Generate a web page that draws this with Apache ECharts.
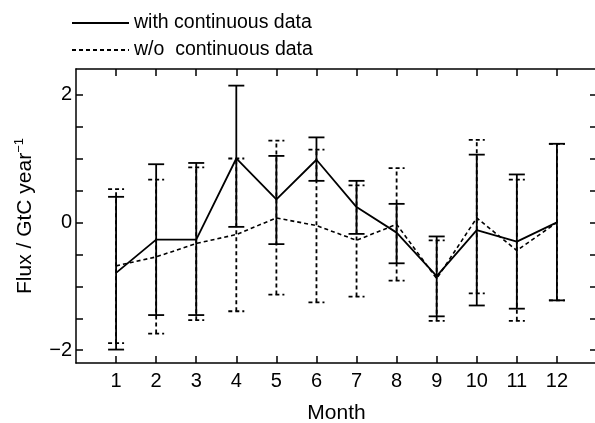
<!DOCTYPE html>
<html>
<head>
<meta charset="utf-8">
<script src="https://cdn.jsdelivr.net/npm/echarts@6/dist/echarts.min.js"></script>
<style>
  html, body { margin: 0; padding: 0; background: #fff; }
  #chart { width: 595px; height: 423px; }
</style>
</head>
<body>
<div id="chart"></div>
<script>
var months = [1, 2, 3, 4, 5, 6, 7, 8, 9, 10, 11, 12];

// with continuous data
var withMean = [-0.79, -0.27, -0.27, 1.00, 0.36, 0.98, 0.24, -0.16, -0.84, -0.12, -0.30, 0.00];
var withLow  = [-1.99, -1.45, -1.45, -0.07, -0.34, 0.65, -0.18, -0.64, -1.47, -1.30, -1.35, -1.22];
var withHigh = [0.40, 0.91, 0.93, 2.14, 1.04, 1.33, 0.65, 0.29, -0.22, 1.06, 0.75, 1.23];

// w/o continuous data
var woMean = [-0.68, -0.54, -0.33, -0.19, 0.07, -0.05, -0.28, -0.03, -0.88, 0.07, -0.44, 0.00];
var woLow  = [-1.89, -1.74, -1.53, -1.39, -1.13, -1.25, -1.16, -0.91, -1.54, -1.11, -1.54, -1.22];
var woHigh = [0.52, 0.67, 0.86, 1.00, 1.28, 1.14, 0.58, 0.85, -0.28, 1.29, 0.67, 1.23];

var yTicks = [-2, -1.5, -1, -0.5, 0, 0.5, 1, 1.5, 2];
var yLabels = [-2, 0, 2];

function pairs(ys) {
	return months.map(function (m, i) { return [m, ys[i]]; });
}
function bars(lo, hi) {
	return months.map(function (m, i) { return [m, lo[i], hi[i]]; });
}

function errorBar(dash) {
	return function (params, api) {
		var lo = api.coord([api.value(0), api.value(1)]);
		var hi = api.coord([api.value(0), api.value(2)]);
		var w = 8;
		var style = { stroke: '#000', lineWidth: 1.8, lineDash: dash };
		return {
			type: 'group',
			children: [
				{ type: 'line', shape: { x1: lo[0], y1: lo[1], x2: hi[0], y2: hi[1] }, style: style },
				{ type: 'line', shape: { x1: lo[0] - w, y1: lo[1], x2: lo[0] + w, y2: lo[1] }, style: style },
				{ type: 'line', shape: { x1: hi[0] - w, y1: hi[1], x2: hi[0] + w, y2: hi[1] }, style: style }
			]
		};
	};
}

var font = 'Liberation Sans, Arial, sans-serif';
var axisLine = { onZero: false, lineStyle: { color: '#000', width: 1.5 } };
var chart = echarts.init(document.getElementById('chart'));

chart.setOption({
	backgroundColor: '#fff',
	animation: false,
	textStyle: { fontFamily: font, color: '#000' },
	legend: {
		orient: 'vertical',
		left: 66,
		top: 8,
		itemWidth: 57,
		itemHeight: 14,
		itemGap: 7,
		itemStyle: { opacity: 0 },
		data: ['with continuous data', 'w/o  continuous data'],
		textStyle: { fontSize: 19.5, color: '#000', fontFamily: font }
	},
	grid: { left: 76, right: -2, top: 69, bottom: 60, outerBoundsMode: 'none' },
	xAxis: [{
		type: 'value', min: 0, max: 13,
		name: 'Month', nameLocation: 'middle', nameGap: 40,
		nameTextStyle: { fontSize: 21, color: '#000' },
		axisLine: axisLine,
		axisTick: { inside: true, length: 7, lineStyle: { color: '#000', width: 1.5 }, customValues: months },
		axisLabel: { fontSize: 20, color: '#000', margin: 8, customValues: months },
		splitLine: { show: false }
	}, {
		type: 'value', min: 0, max: 13, position: 'top',
		axisLine: axisLine,
		axisTick: { inside: true, length: 7, lineStyle: { color: '#000', width: 1.5 }, customValues: months },
		axisLabel: { show: false },
		splitLine: { show: false }
	}],
	yAxis: [{
		type: 'value', min: -2.2, max: 2.4,
		name: 'Flux / GtC year{sup|−1}', nameLocation: 'middle', nameGap: 38, nameRotate: 90,
		nameTextStyle: {
			fontSize: 21, color: '#000',
			rich: { sup: { fontSize: 13, verticalAlign: 'top', padding: [0, 0, 12, 0], color: '#000' } }
		},
		axisLine: axisLine,
		axisTick: { inside: true, length: 7, lineStyle: { color: '#000', width: 1.5 }, customValues: yTicks },
		axisLabel: {
			fontSize: 20, color: '#000', margin: 4, customValues: yLabels,
			formatter: function (v) { return v < 0 ? '−' + (-v) : String(v); }
		},
		splitLine: { show: false }
	}, {
		type: 'value', min: -2.2, max: 2.4, position: 'right',
		axisLine: axisLine,
		axisTick: { inside: true, length: 7, lineStyle: { color: '#000', width: 1.5 }, customValues: yTicks },
		axisLabel: { show: false },
		splitLine: { show: false }
	}],
	series: [{
		name: 'with continuous data',
		type: 'line',
		data: pairs(withMean),
		symbol: 'none',
		lineStyle: { color: '#000', width: 1.8, type: 'solid' },
		itemStyle: { color: '#000' },
		z: 3
	}, {
		name: 'w/o  continuous data',
		type: 'line',
		data: pairs(woMean),
		symbol: 'none',
		lineStyle: { color: '#000', width: 1.6, type: [4, 3] },
		itemStyle: { color: '#000' },
		z: 3
	}, {
		type: 'custom',
		data: bars(withLow, withHigh),
		renderItem: errorBar(null),
		encode: { x: 0, y: [1, 2] },
		z: 2
	}, {
		type: 'custom',
		data: bars(woLow, woHigh),
		renderItem: errorBar([4, 3]),
		encode: { x: 0, y: [1, 2] },
		z: 2
	}]
});
</script>
</body>
</html>
